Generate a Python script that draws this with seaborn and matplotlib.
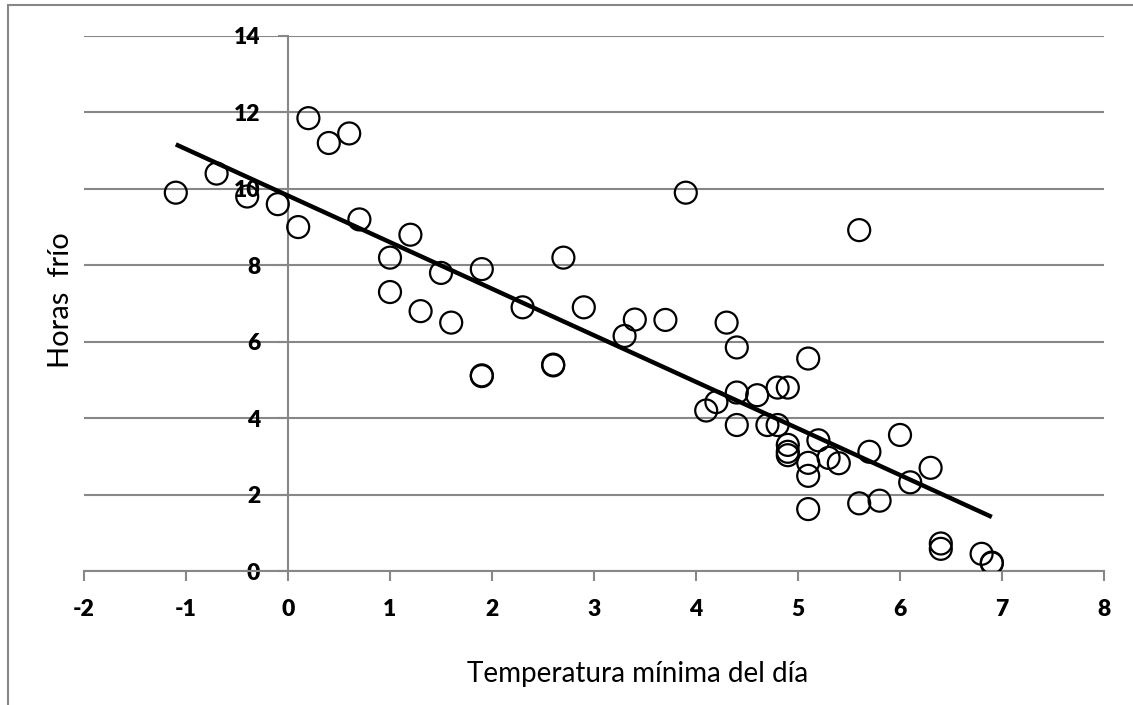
import numpy as np
import pandas as pd
import seaborn as sns
import matplotlib.pyplot as plt
from matplotlib.lines import Line2D

# Data
temp = [-1.1, -0.7, -0.4, -0.1, 0.1, 0.2, 0.4, 0.6, 0.7, 1.2, 1.0, 1.0, 1.3, 1.5,
        1.6, 1.9, 1.9, 1.9, 2.3, 2.6, 2.6, 2.7, 2.9, 3.3, 3.4, 3.7, 3.9, 4.1, 4.2,
        4.3, 4.4, 4.4, 4.4, 4.6, 4.7, 4.8, 4.8, 4.9, 4.9, 4.9, 4.9, 5.1, 5.1, 5.1,
        5.1, 5.2, 5.3, 5.4, 5.6, 5.6, 5.7, 5.8, 6.0, 6.1, 6.3, 6.4, 6.4, 6.8, 6.9, 6.9]
horas = [9.9, 10.4, 9.8, 9.6, 9.0, 11.85, 11.2, 11.45, 9.2, 8.8, 8.2, 7.3, 6.8, 7.8,
         6.5, 7.9, 5.1, 5.12, 6.9, 5.38, 5.4, 8.2, 6.9, 6.15, 6.58, 6.57, 9.9, 4.2, 4.42,
         6.5, 5.85, 4.67, 3.82, 4.6, 3.82, 4.8, 3.82, 4.8, 3.3, 3.12, 3.03, 5.56, 2.83, 2.49,
         1.62, 3.42, 2.96, 2.82, 8.92, 1.77, 3.12, 1.84, 3.56, 2.32, 2.7, 0.72, 0.58, 0.45, 0.22, 0.2]

x_ticks = list(range(-2, 9))
y_ticks = list(range(0, 15, 2))

sns.set_theme(style="white")
plt.rcParams['font.family'] = ['Lato', 'DejaVu Sans']

W, H = 1133, 705
fig = plt.figure(figsize=(W / 100, H / 100), dpi=100)
ax = fig.add_axes([84 / W, 1 - 571 / H, (1104 - 84) / W, (571 - 36) / H])

df = pd.DataFrame({"temp": temp, "horas": horas})
sns.scatterplot(data=df, x="temp", y="horas", s=250, marker="o",
                color="black", linewidth=1.6, ax=ax, zorder=3)
ax.collections[-1].set_facecolor("none")
ax.collections[-1].set_edgecolor("black")
sns.regplot(data=df, x="temp", y="horas", scatter=False, ci=None, truncate=True,
            line_kws=dict(color="black", lw=3.2, zorder=4, solid_capstyle="butt"), ax=ax)

gray = "#878787"
ax.spines["left"].set_position(("data", 0))
ax.spines["top"].set_visible(False)
ax.spines["right"].set_visible(False)
for s in ("left", "bottom"):
    ax.spines[s].set_color(gray)
    ax.spines[s].set_linewidth(1.5)

ax.set_xlim(-2, 8)
ax.set_ylim(0, 14)
ax.set_xticks(x_ticks)
ax.set_yticks(y_ticks)
ax.set_xticklabels([str(v) for v in x_ticks], fontweight="heavy", fontsize=16.5)
ax.set_yticklabels([str(v) for v in y_ticks], fontweight="heavy", fontsize=16.5)
ax.tick_params(axis="both", direction="out", length=7, width=1.5, color=gray,
               labelcolor="black", bottom=True, left=True)
ax.tick_params(axis="x", pad=13)
ax.tick_params(axis="y", pad=13)
ax.yaxis.grid(True, color=gray, lw=1.5)
ax.xaxis.grid(False)
ax.set_axisbelow(True)
ax.set_xlabel("")
ax.set_ylabel("")
ax.patch.set_alpha(0)

fig.text(638 / W, 1 - 674 / H, "Temperatura mínima del día", ha="center", va="center",
         fontsize=20, color="black")
fig.text(61 / W, 1 - 300 / H, "Horas  frío", ha="center", va="center",
         rotation=90, fontsize=21, color="black")

# outer chart border (left and top visible)
fig.add_artist(Line2D([7.5 / W, 7.5 / W], [0, 1 - 4.5 / H], transform=fig.transFigure,
                      color=gray, lw=1.5))
fig.add_artist(Line2D([7.5 / W, 1], [1 - 4.5 / H, 1 - 4.5 / H], transform=fig.transFigure,
                      color=gray, lw=1.5))

fig.savefig("out.png", dpi=100)
